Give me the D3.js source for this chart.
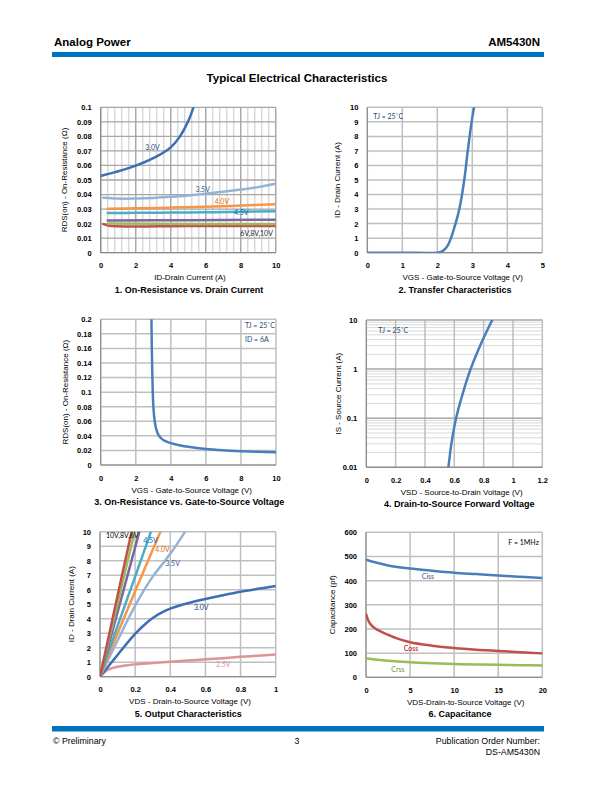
<!DOCTYPE html>
<html><head><meta charset="utf-8">
<script src="https://cdn.jsdelivr.net/npm/d3@7"></script>
<style>body{margin:0;background:#fff}</style>
</head><body><svg id="page" width="612" height="792"></svg>
<script>
// ---------- Chart 1: RDS(on) vs ID ----------
const c1XTicks = [0, 2, 4, 6, 8, 10];
const c1YTicks = [0, 0.01, 0.02, 0.03, 0.04, 0.05, 0.06, 0.07, 0.08, 0.09, 0.1];
const c1Names = ["3.0V", "3.5V", "4.0V", "4.5V", "6V", "8V", "10V"];
const c1_3v0 = [[0,0.0528],[0.5,0.0544],[1,0.056],[1.5,0.0578],[2,0.0599],[2.5,0.0622],[3,0.065],[3.5,0.0682],[4,0.0724],[4.5,0.0795],[5,0.0905],[5.3,0.1],[5.4,0.104]];
const c1_3v5 = [[0.15,0.0378],[1,0.0372],[2,0.0373],[3,0.0377],[4,0.0384],[5,0.0394],[6,0.0406],[7,0.0419],[8,0.0434],[9,0.0451],[10,0.0474]];
const c1_4v0 = [[0.4,0.0303],[2,0.0305],[4,0.031],[6,0.0316],[8,0.0324],[10,0.0333]];
const c1_4v5 = [[0.4,0.0273],[2,0.0274],[4,0.0276],[6,0.0278],[8,0.0281],[10,0.0285]];
const c1_6v  = [[0.4,0.0222],[5,0.0224],[10,0.0227]];
const c1_8v  = [[0.4,0.0200],[5,0.0198],[10,0.0197]];
const c1_10v = [[0.15,0.0196],[0.5,0.0185],[5,0.0183],[10,0.0184]];

// ---------- Chart 2: Transfer ----------
const c2XTicks = [0, 1, 2, 3, 4, 5];
const c2YTicks = [0, 1, 2, 3, 4, 5, 6, 7, 8, 9, 10];
const c2_id = [[0,0],[1,0],[2,0],[2.1,0.05],[2.2,0.2],[2.3,0.5],[2.39,1],[2.52,2],[2.63,3],[2.77,5],[2.87,7],[2.98,9],[3.05,10],[3.08,10.5]];

// ---------- Chart 3: RDS(on) vs VGS ----------
const c3XTicks = [0, 2, 4, 6, 8, 10];
const c3YTicks = [0, 0.02, 0.04, 0.06, 0.08, 0.1, 0.12, 0.14, 0.16, 0.18, 0.2];
const c3_rds = [[2.89,0.21],[2.91,0.17],[2.94,0.13],[2.97,0.1],[3.01,0.078],[3.07,0.062],[3.16,0.05],[3.3,0.041],[3.5,0.0355],[3.75,0.0322],[4,0.0300],[4.5,0.0272],[5,0.025],[6,0.022],[7,0.0202],[8,0.019],[9,0.0181],[10,0.0175]];

// ---------- Chart 4: Body diode forward voltage ----------
const c4XTicks = [0, 0.2, 0.4, 0.6, 0.8, 1, 1.2];
const c4YTicks = [0.01, 0.1, 1, 10];
const c4_is = [[0.555,0.009],[0.559,0.01],[0.58,0.03],[0.612,0.1],[0.655,0.3],[0.711,1],[0.776,3],[0.81,5],[0.859,10],[0.87,11.5]];

// ---------- Chart 5: Output characteristics ----------
const c5XTicks = [0, 0.2, 0.4, 0.6, 0.8, 1];
const c5YTicks = [0, 1, 2, 3, 4, 5, 6, 7, 8, 9, 10];
const c5Names = ["10V", "8V", "6V", "4.5V", "4.0V", "3.5V", "3.0V", "2.5V"];
const c5_10v = [[0,0],[0.1,5.6],[0.18,10],[0.19,10.5]];
const c5_8v  = [[0,0],[0.1,5.05],[0.197,10],[0.207,10.5]];
const c5_6v  = [[0,0],[0.1,4.45],[0.224,10],[0.235,10.5]];
const c5_4v5 = [[0,0],[0.1,3.5],[0.2,6.9],[0.29,10],[0.305,10.5]];
const c5_4v0 = [[0,0],[0.1,3.0],[0.2,5.9],[0.3,8.75],[0.344,10],[0.362,10.5]];
const c5_3v5 = [[0,0],[0.1,2.5],[0.2,4.9],[0.3,6.9],[0.37,8.0],[0.43,9.0],[0.484,10],[0.51,10.5]];
const c5_3v0 = [[0,0],[0.05,0.75],[0.1,1.5],[0.15,2.25],[0.2,2.95],[0.25,3.55],[0.3,4.05],[0.35,4.42],[0.4,4.7],[0.5,5.07],[0.6,5.36],[0.7,5.62],[0.8,5.86],[0.9,6.06],[1,6.25]];
const c5_2v5 = [[0,0],[0.025,0.3],[0.05,0.5],[0.1,0.68],[0.15,0.78],[0.2,0.85],[0.3,0.95],[0.4,1.03],[0.5,1.11],[0.6,1.2],[0.7,1.28],[0.8,1.37],[0.9,1.45],[1,1.53]];

// ---------- Chart 6: Capacitance ----------
const c6XTicks = [0, 5, 10, 15, 20];
const c6YTicks = [0, 100, 200, 300, 400, 500, 600];
const c6_ciss = [[0,487],[1,476],[2.5,463],[5,450],[7.5,441],[10,433],[12.5,427],[15,421],[17.5,416],[20,411]];
const c6_coss = [[0,262],[0.25,236],[0.5,220],[1,203],[1.75,188],[2.5,176],[3.5,161],[5,145],[7.5,131],[10,121],[12.5,114],[15,109],[17.5,104],[20,99]];
const c6_crss = [[0,79],[1,74],[2.5,68],[5,62],[7.5,58],[10,55],[12.5,53],[15,52],[17.5,50],[20,49]];

const svg = d3.select("#page");
const SANS = "'Liberation Sans', Arial, sans-serif";
const LBL = "Lato, 'Open Sans', sans-serif";
const fmt2 = d => String(+d.toFixed(2));

// ---------- header / footer ----------
svg.append("text").attr("x",54).attr("y",45.7).attr("font-family",SANS).attr("font-weight","bold").attr("font-size",11.5).text("Analog Power");
svg.append("text").attr("x",540).attr("y",45.7).attr("text-anchor","end").attr("font-family",SANS).attr("font-weight","bold").attr("font-size",11.5).text("AM5430N");
svg.append("rect").attr("x",52).attr("y",52).attr("width",492).attr("height",5).attr("fill","#0070C0");
svg.append("text").attr("x",297).attr("y",82).attr("text-anchor","middle").attr("font-family",SANS).attr("font-weight","bold").attr("font-size",11.6).text("Typical Electrical Characteristics");
svg.append("rect").attr("x",52).attr("y",726).attr("width",492).attr("height",5.5).attr("fill","#0070C0");
svg.append("text").attr("x",53).attr("y",744).attr("font-family",SANS).attr("font-size",8.8).text("© Preliminary");
svg.append("text").attr("x",297).attr("y",744).attr("text-anchor","middle").attr("font-family",SANS).attr("font-size",8.8).text("3");
svg.append("text").attr("x",540).attr("y",744).attr("text-anchor","end").attr("font-family",SANS).attr("font-size",8.8).text("Publication Order Number:");
svg.append("text").attr("x",540).attr("y",755).attr("text-anchor","end").attr("font-family",SANS).attr("font-size",8.8).text("DS-AM5430N");

let clipId = 0;
function drawChart(o) {
  const g = svg.append("g");
  const x = d3.scaleLinear().domain(o.xDomain).range([o.left, o.right]);
  const y = (o.yLog ? d3.scaleLog() : d3.scaleLinear()).domain(o.yDomain).range([o.bottom, o.top]);
  const gridC = o.gridColor || "#bfbfbf", gridW = o.gridWidth || 1.5;
  g.selectAll(null).data(o.vMinor || []).join("line")
    .attr("x1", d => x(d)).attr("x2", d => x(d)).attr("y1", o.top).attr("y2", o.bottom)
    .attr("stroke", o.minorColor || "#d9d9d9").attr("stroke-width", o.minorWidth || 1);
  g.selectAll(null).data(o.hMinor || []).join("line")
    .attr("y1", d => y(d)).attr("y2", d => y(d)).attr("x1", o.left).attr("x2", o.right)
    .attr("stroke", o.minorColor || "#d9d9d9").attr("stroke-width", o.minorWidth || 1);
  g.selectAll(null).data(o.vGrid || o.xTicks).join("line")
    .attr("x1", d => x(d)).attr("x2", d => x(d)).attr("y1", o.top).attr("y2", o.bottom)
    .attr("stroke", o.vGridColor || gridC).attr("stroke-width", gridW);
  g.selectAll(null).data(o.hGrid || o.yTicks).join("line")
    .attr("y1", d => y(d)).attr("y2", d => y(d)).attr("x1", o.left).attr("x2", o.right)
    .attr("stroke", o.hGridColor || gridC).attr("stroke-width", gridW);
  g.append("line").attr("x1", o.left).attr("x2", o.left).attr("y1", o.top).attr("y2", o.bottom).attr("stroke", "#868686").attr("stroke-width", 1);
  g.append("line").attr("x1", o.left).attr("x2", o.right).attr("y1", o.bottom).attr("y2", o.bottom).attr("stroke", "#868686").attr("stroke-width", 1);
  const ya = g.append("g").attr("transform", `translate(${o.left},0)`)
    .call(d3.axisLeft(y).tickValues(o.yTicks).tickFormat(o.yFmt || (d => d)).tickSize(0).tickPadding(9));
  ya.select(".domain").remove();
  ya.attr("font-family", SANS).attr("font-size", 7.5).attr("font-weight", "bold");
  const xa = g.append("g").attr("transform", `translate(0,${o.bottom})`)
    .call(d3.axisBottom(x).tickValues(o.xTicks).tickFormat(o.xFmt || (d => d)).tickSize(0).tickPadding(10.2));
  xa.select(".domain").remove();
  xa.attr("font-family", SANS).attr("font-size", 7.5).attr("font-weight", "bold");
  const cid = "clip" + (clipId++);
  svg.append("clipPath").attr("id", cid).append("rect")
    .attr("x", o.left).attr("y", o.top).attr("width", o.right - o.left).attr("height", o.bottom - o.top);
  const line = d3.line().x(d => x(d[0])).y(d => y(d[1])).curve(d3.curveCatmullRom.alpha(0.5));
  g.append("g").attr("clip-path", `url(#${cid})`).selectAll("path").data(o.series).join("path")
    .attr("d", s => line(s.data)).attr("fill", "none").attr("stroke", s => s.color)
    .attr("stroke-width", s => s.width || 2.5).attr("stroke-linecap", "round");
  g.selectAll(null).data(o.labels || []).join("text")
    .attr("x", d => x(d.x)).attr("y", d => y(d.y)).attr("fill", d => d.color)
    .attr("font-family", LBL).attr("font-size", 7).text(d => d.text);
  g.append("text").attr("transform", `translate(${o.yTitleX},${(o.top + o.bottom) / 2}) rotate(-90)`)
    .attr("text-anchor", "middle").attr("dominant-baseline", "central")
    .attr("font-family", SANS).attr("font-size", 8).text(o.yTitle);
  g.append("text").attr("x", o.xTitleX).attr("y", o.bottom + 27.5).attr("text-anchor", "middle")
    .attr("font-family", SANS).attr("font-size", 8).text(o.xTitle);
  g.append("text").attr("x", o.capX).attr("y", o.bottom + 40).attr("text-anchor", "middle")
    .attr("font-family", SANS).attr("font-size", 9).attr("font-weight", "bold").text(o.caption);
}

// Chart 1
drawChart({
  left: 100.7, right: 275.7, top: 107.3, bottom: 252.7,
  xDomain: [0, 10], yDomain: [0, 0.1], xTicks: c1XTicks, yTicks: c1YTicks, yFmt: fmt2,
  vMinor: d3.range(0, 10.01, 0.4), minorColor: "#d9d9d9", minorWidth: 1.5,
  vGrid: c1XTicks, vGridColor: "#a6a6a6", hGridColor: "#a6a6a6", gridWidth: 1.3,
  series: [
    {data: c1_10v, color: "#C0504D"}, {data: c1_8v, color: "#9BBB59"}, {data: c1_6v, color: "#8064A2"},
    {data: c1_4v5, color: "#4BACC6"}, {data: c1_4v0, color: "#F79646"}, {data: c1_3v5, color: "#95B3D7"},
    {data: c1_3v0, color: "#3F6FB2"}
  ],
  labels: [
    {text: c1Names[0], x: 2.55, y: 0.0705, color: "#1F497D"},
    {text: c1Names[1], x: 5.41, y: 0.042, color: "#376092"},
    {text: c1Names[2], x: 6.51, y: 0.0333, color: "#E46C0A"},
    {text: c1Names[3], x: 7.62, y: 0.026, color: "#0070C0"},
    {text: c1Names.slice(4).join(","), x: 7.98, y: 0.0116, color: "#262626"}
  ],
  yTitle: "RDS(on) - On-Resistance (Ω)", yTitleX: 64,
  xTitle: "ID-Drain Current (A)", xTitleX: 190,
  caption: "1. On-Resistance vs. Drain Current", capX: 189
});

// Chart 2
drawChart({
  left: 367.3, right: 542.3, top: 107.3, bottom: 252.7,
  xDomain: [0, 5], yDomain: [0, 10], xTicks: c2XTicks, yTicks: c2YTicks,
  series: [{data: c2_id, color: "#4A7EBB"}],
  labels: [{text: "TJ = 25˚C", x: 0.17, y: 9.2, color: "#1F497D"}],
  yTitle: "ID - Drain Current (A)", yTitleX: 337.3,
  xTitle: "VGS - Gate-to-Source Voltage (V)", xTitleX: 462.7,
  caption: "2. Transfer Characteristics", capX: 455
});

// Chart 3
drawChart({
  left: 100.7, right: 276, top: 319.3, bottom: 465,
  xDomain: [0, 10], yDomain: [0, 0.2], xTicks: c3XTicks, yTicks: c3YTicks, yFmt: fmt2,
  series: [{data: c3_rds, color: "#4A7EBB"}],
  labels: [
    {text: "TJ = 25˚C", x: 8.23, y: 0.1876, color: "#1F497D"},
    {text: "ID = 6A", x: 8.23, y: 0.169, color: "#1F497D"}
  ],
  yTitle: "RDS(on) - On-Resistance (Ω)", yTitleX: 65,
  xTitle: "VGS - Gate-to-Source Voltage (V)", xTitleX: 191.7,
  caption: "3. On-Resistance vs. Gate-to-Source Voltage", capX: 189.3
});

// Chart 4
const c4Minor = [];
[0.01, 0.1, 1].forEach(dec => { for (let k = 2; k <= 9; k++) c4Minor.push(dec * k); });
drawChart({
  left: 366.3, right: 542.3, top: 320, bottom: 467.3,
  xDomain: [0, 1.2], yDomain: [0.01, 10], yLog: true, xTicks: c4XTicks, yTicks: c4YTicks,
  xFmt: d => String(+d.toFixed(1)), yFmt: d => String(+d.toFixed(2)),
  hMinor: c4Minor, minorColor: "#d9d9d9", minorWidth: 1,
  vGridColor: "#bfbfbf", hGridColor: "#a6a6a6",
  series: [{data: c4_is, color: "#4A7EBB"}],
  labels: [{text: "TJ = 25˚C", x: 0.082, y: 5.5, color: "#1F497D"}],
  yTitle: "IS - Source Current (A)", yTitleX: 338.3,
  xTitle: "VSD - Source-to-Drain Voltage (V)", xTitleX: 461.7,
  caption: "4. Drain-to-Source Forward Voltage", capX: 459.3
});

// Chart 5
drawChart({
  left: 100, right: 275.7, top: 531.7, bottom: 676.7,
  xDomain: [0, 1], yDomain: [0, 10], xTicks: c5XTicks, yTicks: c5YTicks,
  xFmt: d => String(+d.toFixed(1)),
  series: [
    {data: c5_2v5, color: "#D99694"}, {data: c5_3v0, color: "#3F6FB2"}, {data: c5_3v5, color: "#95B3D7"},
    {data: c5_4v0, color: "#F79646"}, {data: c5_4v5, color: "#4BACC6"}, {data: c5_6v, color: "#8064A2"},
    {data: c5_8v, color: "#9BBB59"}, {data: c5_10v, color: "#C0504D"}
  ],
  labels: [
    {text: c5Names.slice(0, 3).join(","), x: 0.034, y: 9.54, color: "#000000"},
    {text: c5Names[3], x: 0.246, y: 9.2, color: "#0070C0"},
    {text: c5Names[4], x: 0.315, y: 8.62, color: "#E46C0A"},
    {text: c5Names[5], x: 0.372, y: 7.63, color: "#376092"},
    {text: c5Names[6], x: 0.535, y: 4.6, color: "#1F497D"},
    {text: c5Names[7], x: 0.66, y: 0.65, color: "#D99694"}
  ],
  yTitle: "ID - Drain Current (A)", yTitleX: 71.7,
  xTitle: "VDS - Drain-to-Source Voltage (V)", xTitleX: 190,
  caption: "5. Output Characteristics", capX: 188.3
});

// Chart 6
drawChart({
  left: 366, right: 542.3, top: 532.3, bottom: 677.3,
  xDomain: [0, 20], yDomain: [0, 600], xTicks: c6XTicks, yTicks: c6YTicks,
  series: [
    {data: c6_crss, color: "#9BBB59"}, {data: c6_coss, color: "#C0504D"}, {data: c6_ciss, color: "#4A7EBB"}
  ],
  labels: [
    {text: "F = 1MHz", x: 16.15, y: 547, color: "#000000"},
    {text: "Ciss", x: 6.32, y: 405, color: "#376092"},
    {text: "Coss", x: 4.28, y: 109, color: "#C00000"},
    {text: "Crss", x: 2.87, y: 21, color: "#76923C"}
  ],
  yTitle: "Capacitance (pf)", yTitleX: 332.7,
  xTitle: "VDS-Drain-to-Source Voltage (V)", xTitleX: 465.7,
  caption: "6. Capacitance", capX: 460
});
</script>
</body></html>
